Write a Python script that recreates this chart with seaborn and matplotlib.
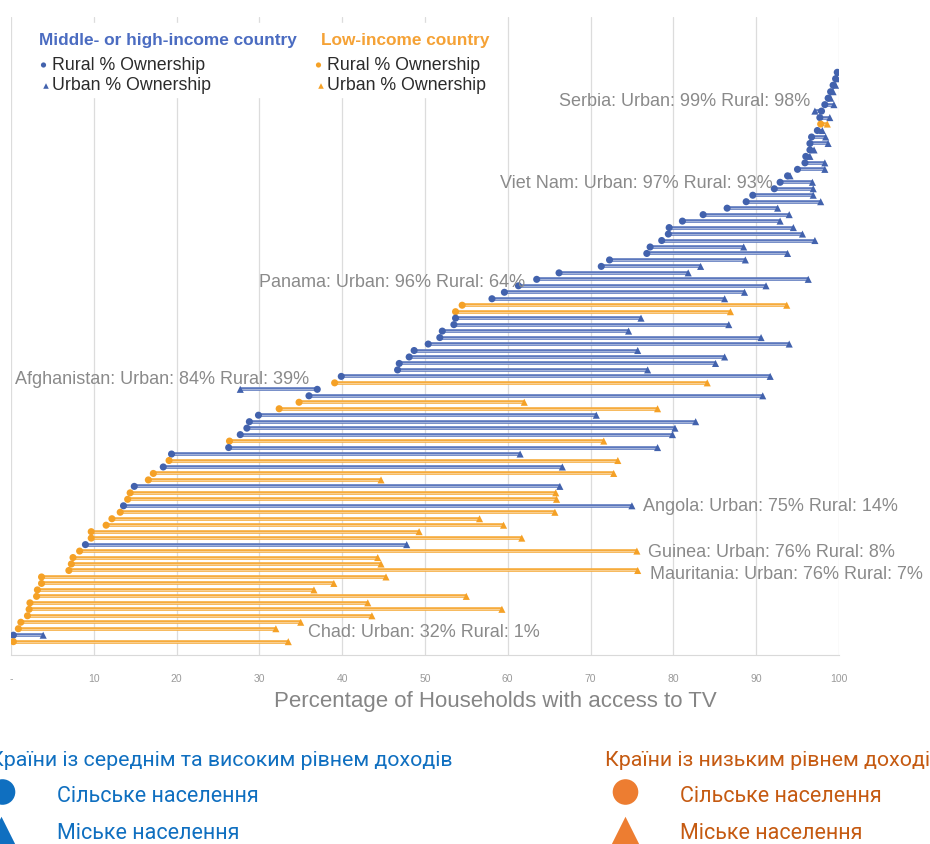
import matplotlib
matplotlib.use("Agg")
import matplotlib.pyplot as plt
from matplotlib.patches import Rectangle
import numpy as np
import pandas as pd
import seaborn as sns

# Rural / urban share of households with a TV, one row per country (top to bottom)
rural = [99.8, 99.6, 99.3, 99.0, 98.7, 98.3, 97.9, 97.7, 97.8, 97.4,
         96.7, 96.5, 96.5, 96.0, 95.9, 95.0, 93.8, 92.9, 92.2, 89.6,
         88.8, 86.5, 83.6, 81.1, 79.5, 79.4, 78.6, 77.2, 76.8, 72.3,
         71.3, 66.2, 63.5, 61.3, 59.6, 58.1, 54.5, 53.7, 53.7, 53.5,
         52.1, 51.8, 50.4, 48.7, 48.1, 46.9, 46.7, 39.9, 39.1, 37.0,
         36.0, 34.8, 32.4, 29.9, 28.8, 28.5, 27.7, 26.4, 26.3, 19.4,
         19.1, 18.4, 17.2, 16.6, 14.9, 14.4, 14.1, 13.6, 13.2, 12.2,
         11.5, 9.7, 9.7, 9.0, 8.3, 7.5, 7.3, 7.0, 3.7, 3.7,
         3.2, 3.1, 2.3, 2.2, 2.0, 1.2, 0.9, 0.3, 0.3]
urban = [99.9, 99.8, 99.6, 99.3, 99.0, 99.4, 97.1, 98.9, 98.6, 98.0,
         98.4, 98.7, 97.0, 96.5, 98.3, 98.3, 94.1, 96.8, 96.9, 96.9,
         97.8, 92.6, 94.0, 92.9, 94.5, 95.6, 97.1, 88.5, 93.8, 88.7,
         83.3, 81.8, 96.3, 91.2, 88.6, 86.2, 93.7, 86.9, 76.1, 86.7,
         74.6, 90.6, 94.0, 75.7, 86.2, 85.1, 76.9, 91.7, 84.1, 27.7,
         90.8, 62.0, 78.1, 70.7, 82.7, 80.2, 79.9, 71.6, 78.1, 61.5,
         73.3, 66.6, 72.8, 44.7, 66.3, 65.8, 65.9, 75.0, 65.7, 56.6,
         59.5, 49.3, 61.7, 47.8, 75.6, 44.3, 44.7, 75.7, 45.3, 39.0,
         36.6, 55.0, 43.1, 59.3, 43.6, 35.0, 32.0, 3.9, 33.5]
# H = middle- or high-income, L = low-income
income = list("HHHHHHHHLH" "HHHHHHHHHH" "HHHHHHHHHH" "HHHHHHLLHH"
              "HHHHHHHHLH" "HLLHHHHLHH" "LHLLHLLHLL" "LLLHLLLLLL"
              "LLLLLLLHL")

annotations = [
    ("Serbia: Urban: 99% Rural: 98%", 96.5, 4.3, "right"),
    ("Viet Nam: Urban: 97% Rural: 93%", 92.0, 17.0, "right"),
    ("Panama: Urban: 96% Rural: 64%", 62.1, 32.3, "right"),
    ("Afghanistan: Urban: 84% Rural: 39%", 36.0, 47.3, "right"),
    ("Angola: Urban: 75% Rural: 14%", 76.3, 67.0, "left"),
    ("Guinea: Urban: 76% Rural: 8%", 77.0, 74.0, "left"),
    ("Mauritania: Urban: 76% Rural: 7%", 77.2, 77.4, "left"),
    ("Chad: Urban: 32% Rural: 1%", 35.9, 86.4, "left"),
]

tick_vals = list(range(0, 101, 10))
tick_labels = ["-"] + [str(v) for v in tick_vals[1:]]

blue = "#4262ad"
orange = "#f5a126"
blue_line = "#5b77bd"
orange_line = "#f6ab3c"

df = pd.DataFrame({"row": np.arange(len(rural)), "rural": rural,
                   "urban": urban, "income": income})
long = df.melt(id_vars=["row", "income"], value_vars=["rural", "urban"],
               var_name="area", value_name="value")

sns.set_style("white")
plt.rcParams["font.family"] = ["Liberation Sans", "DejaVu Sans"]

fig = plt.figure(figsize=(9.3, 8.45), dpi=100)
ax = fig.add_axes([10.9 / 930, 1 - 656 / 845, 828 / 930, (656 - 18) / 845])

# connecting lines
for grp, col in [("H", blue_line), ("L", orange_line)]:
    d = df[df["income"] == grp]
    ax.hlines(d["row"], d["rural"], d["urban"], colors=col, lw=2.6, zorder=2)
    ax.hlines(d["row"], d["rural"], d["urban"], colors="white", lw=0.7,
              alpha=0.45, zorder=2.1)

sns.scatterplot(data=long, x="value", y="row", hue="income", style="area",
                palette={"H": blue, "L": orange},
                markers={"rural": "o", "urban": "^"},
                s=26, linewidth=0, legend=False, zorder=3, ax=ax)

for txt, x, y, ha in annotations:
    ax.text(x, y, txt, ha=ha, va="center", fontsize=13, color="#8a8a8a")

ax.set_xlim(0, 100)
ax.set_ylim((656 - 73.3) / 6.47, (18 - 73.3) / 6.47)
ax.set_xticks(tick_vals)
ax.set_xticklabels(tick_labels, fontsize=7.5, color="#9a9a9a")
ax.set_yticks([])
ax.tick_params(axis="x", length=0, pad=13)
ax.grid(axis="x", color="#dcdcdc", lw=0.9)
ax.set_axisbelow(True)
for side in ["top", "left", "right"]:
    ax.spines[side].set_visible(False)
ax.spines["bottom"].set_color("#d9d9d9")
ax.set_xlabel("Percentage of Households with access to TV", fontsize=16,
              color="#858585")
ax.xaxis.set_label_coords((495.5 - 10.9) / 828, -(702 - 656) / 638, transform=ax.transAxes)
ax.xaxis.label.set_va("center")
ax.set_ylabel("")

# overlay in pixel coordinates for the legends
ov = fig.add_axes([0, 0, 1, 1])
ov.set_xlim(0, 930)
ov.set_ylim(845, 0)
ov.axis("off")
ov.patch.set_alpha(0)

ov.add_patch(Rectangle((22, 24), 478, 74, color="white", zorder=1))
ov.text(39, 40, "Middle- or high-income country", color="#4b6cc1",
        fontsize=12.4, weight="bold", va="center", zorder=2)
ov.text(321, 40, "Low-income country", color="#f5a236",
        fontsize=12.4, weight="bold", va="center", zorder=2)
ov.scatter([43.5, 318.5], [66, 66], marker="o", s=14, c=[blue, orange],
           linewidths=0, zorder=2)
ov.scatter([46, 321], [87, 87], marker="^", s=16, c=[blue, orange],
           linewidths=0, zorder=2)
for x0 in [52, 327]:
    ov.text(x0, 66, "Rural % Ownership", fontsize=12.8, color="#2b2b2b",
            va="center", zorder=2)
    ov.text(x0, 86, "Urban % Ownership", fontsize=12.8, color="#2b2b2b",
            va="center", zorder=2)

# Ukrainian legend under the chart
uk_font = ["Roboto", "DejaVu Sans"]
blue_uk = "#0f6fc0"
orange_uk = "#c55a11"
orange_mk = "#ed7d31"
ov.text(-10, 761, "Країни із середнім та високим рівнем доходів", color=blue_uk,
        fontsize=15.4, va="center", family=uk_font)
ov.text(605, 761, "Країни із низьким рівнем доходів", color=orange_uk,
        fontsize=15.4, va="center", family=uk_font)
ov.scatter([2.5, 625.5], [793, 793], marker="o", s=340, c=[blue_uk, orange_mk],
           linewidths=0, clip_on=False)
ov.scatter([1.5, 625.5], [832, 832], marker="^", s=420, c=[blue_uk, orange_mk],
           linewidths=0, clip_on=False)
ov.text(57, 797, "Сільське населення", color=blue_uk, fontsize=15.5,
        va="center", family=uk_font)
ov.text(57, 834, "Міське населення", color=blue_uk, fontsize=15.5,
        va="center", family=uk_font)
ov.text(680, 797, "Сільське населення", color=orange_uk, fontsize=15.5,
        va="center", family=uk_font)
ov.text(680, 834, "Міське населення", color=orange_uk, fontsize=15.5,
        va="center", family=uk_font)

fig.savefig("out.png", dpi=100)
